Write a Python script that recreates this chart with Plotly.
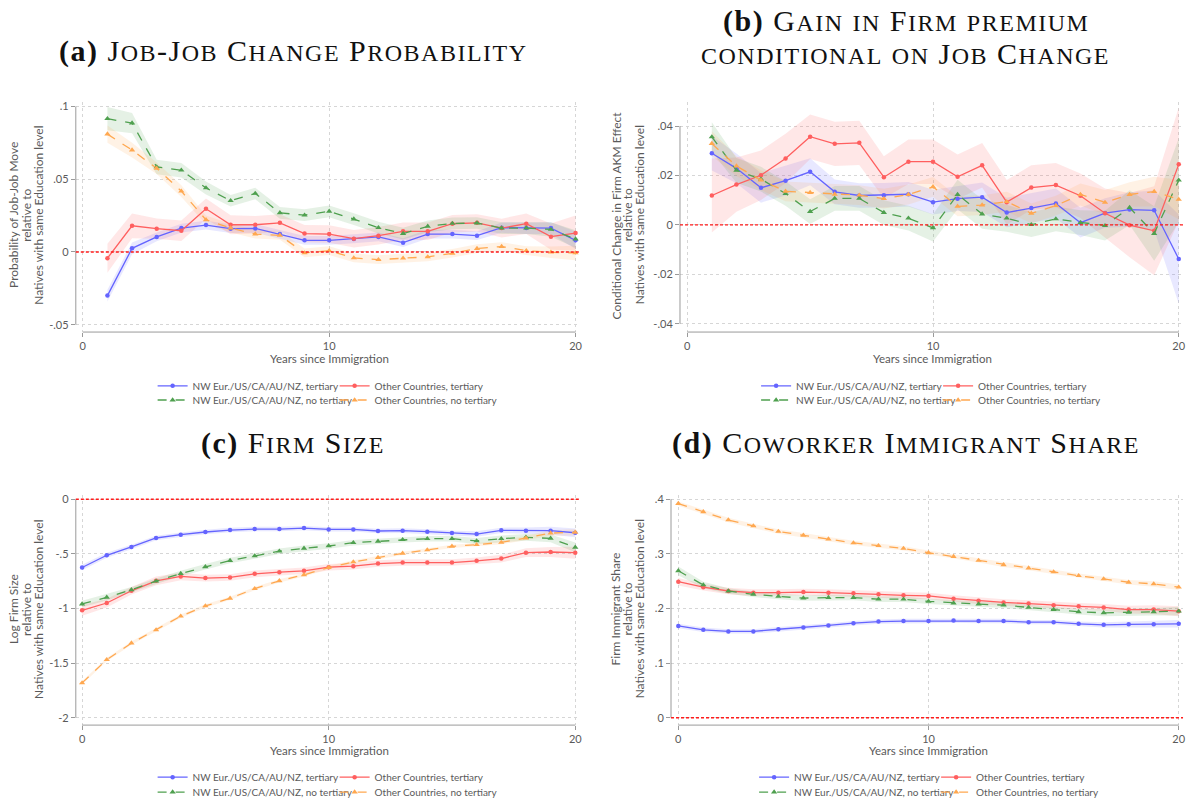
import re
import plotly.graph_objects as go

W, H = 1197, 807

series_names = [
    "NW Eur./US/CA/AU/NZ, tertiary",
    "Other Countries, tertiary",
    "NW Eur./US/CA/AU/NZ, no tertiary",
    "Other Countries, no tertiary",
]
series_colors = ["#6464ff", "#ff5f5f", "#4fa04f", "#ffa850"]
band_colors = ["rgba(100,100,255,0.15)", "rgba(255,95,95,0.15)",
               "rgba(79,160,79,0.15)", "rgba(255,168,80,0.15)"]
series_dash = ["solid", "solid", "dash", "dash"]
series_symbol = ["circle", "circle", "triangle-up", "triangle-up"]

# ---- (a) Job-job change probability -------------------------------------
years_a = list(range(1, 21))
a_nw_ter = [-0.0300, 0.0025, 0.0103, 0.0164, 0.0185, 0.0160, 0.0162, 0.0123, 0.0080, 0.0080,
            0.0089, 0.0103, 0.0064, 0.0123, 0.0123, 0.0112, 0.0167, 0.0164, 0.0164, 0.0080]
a_oth_ter = [-0.0043, 0.0180, 0.0160, 0.0146, 0.0297, 0.0187, 0.0187, 0.0200, 0.0126, 0.0123,
             0.0091, 0.0112, 0.0142, 0.0142, 0.0194, 0.0200, 0.0164, 0.0194, 0.0105, 0.0130]
a_nw_noter = [0.0916, 0.0886, 0.0584, 0.0562, 0.0440, 0.0352, 0.0402, 0.0269, 0.0253, 0.0279,
              0.0226, 0.0167, 0.0126, 0.0176, 0.0196, 0.0199, 0.0164, 0.0164, 0.0155, 0.0089]
a_oth_noter = [0.0810, 0.0700, 0.0575, 0.0418, 0.0221, 0.0164, 0.0123, 0.0114, -0.0007, 0.0009,
               -0.0041, -0.0053, -0.0043, -0.0034, -0.0009, 0.0023, 0.0037, 0.0009, -0.0002, -0.0007]
a_nw_ter_ci = [0.0040, 0.0040, 0.0030, 0.0030, 0.0030, 0.0030, 0.0030, 0.0030, 0.0030, 0.0030,
               0.0030, 0.0030, 0.0030, 0.0030, 0.0030, 0.0030, 0.0035, 0.0040, 0.0040, 0.0060]
a_oth_ter_ci = [0.0100, 0.0085, 0.0070, 0.0070, 0.0070, 0.0065, 0.0060, 0.0060, 0.0060, 0.0060,
                0.0060, 0.0060, 0.0060, 0.0060, 0.0060, 0.0060, 0.0065, 0.0070, 0.0090, 0.0120]
a_nw_noter_ci = [0.0080, 0.0070, 0.0050, 0.0050, 0.0045, 0.0040, 0.0040, 0.0040, 0.0040, 0.0040,
                 0.0040, 0.0040, 0.0040, 0.0040, 0.0040, 0.0040, 0.0040, 0.0040, 0.0050, 0.0060]
a_oth_noter_ci = [0.0060, 0.0050, 0.0040, 0.0040, 0.0030, 0.0030, 0.0030, 0.0030, 0.0030, 0.0030,
                  0.0030, 0.0030, 0.0030, 0.0030, 0.0030, 0.0030, 0.0030, 0.0030, 0.0040, 0.0050]

# ---- (b) Gain in firm premium conditional on job change ------------------
years_b = list(range(1, 21))
b_nw_ter = [0.0290, 0.0229, 0.0150, 0.0179, 0.0215, 0.0134, 0.0119, 0.0120, 0.0124, 0.0092,
            0.0106, 0.0112, 0.0050, 0.0068, 0.0087, 0.0009, 0.0048, 0.0062, 0.0059, -0.0138]
b_oth_ter = [0.0119, 0.0163, 0.0201, 0.0269, 0.0357, 0.0328, 0.0332, 0.0193, 0.0256, 0.0256,
             0.0195, 0.0241, 0.0092, 0.0151, 0.0161, 0.0118, 0.0047, -0.0001, -0.0024, 0.0245]
b_nw_noter = [0.0356, 0.0221, 0.0185, 0.0127, 0.0054, 0.0107, 0.0107, 0.0050, 0.0027, -0.0012,
              0.0123, 0.0044, 0.0027, 0.0001, 0.0024, 0.0009, -0.0003, 0.0070, -0.0035, 0.0181]
b_oth_noter = [0.0329, 0.0238, 0.0181, 0.0136, 0.0131, 0.0124, 0.0120, 0.0106, 0.0123, 0.0154,
               0.0075, 0.0080, 0.0094, 0.0047, 0.0078, 0.0123, 0.0091, 0.0123, 0.0135, 0.0103]
b_nw_ter_ci = [0.0070, 0.0060, 0.0060, 0.0060, 0.0055, 0.0050, 0.0050, 0.0050, 0.0050, 0.0050,
               0.0050, 0.0060, 0.0060, 0.0060, 0.0060, 0.0060, 0.0060, 0.0070, 0.0080, 0.0180]
b_oth_ter_ci = [0.0150, 0.0110, 0.0100, 0.0100, 0.0090, 0.0090, 0.0090, 0.0085, 0.0090, 0.0090,
                0.0090, 0.0090, 0.0090, 0.0090, 0.0090, 0.0090, 0.0100, 0.0130, 0.0180, 0.0230]
b_nw_noter_ci = [0.0060, 0.0050, 0.0050, 0.0050, 0.0050, 0.0050, 0.0050, 0.0050, 0.0050, 0.0055,
                 0.0060, 0.0060, 0.0055, 0.0050, 0.0050, 0.0050, 0.0060, 0.0070, 0.0110, 0.0170]
b_oth_noter_ci = [0.0050, 0.0040, 0.0040, 0.0040, 0.0040, 0.0040, 0.0040, 0.0040, 0.0040, 0.0040,
                  0.0040, 0.0040, 0.0040, 0.0040, 0.0040, 0.0045, 0.0050, 0.0050, 0.0060, 0.0080]

# ---- (c) Firm size ---------------------------------------------------------
years_c = list(range(0, 21))
c_nw_ter = [-0.625, -0.513, -0.437, -0.355, -0.325, -0.300, -0.282, -0.273, -0.273, -0.264, -0.276,
            -0.276, -0.291, -0.288, -0.297, -0.310, -0.319, -0.285, -0.288, -0.288, -0.307]
c_oth_ter = [-1.017, -0.950, -0.838, -0.747, -0.707, -0.722, -0.716, -0.683, -0.668, -0.655, -0.622,
             -0.613, -0.589, -0.580, -0.580, -0.580, -0.564, -0.543, -0.489, -0.483, -0.489]
c_nw_noter = [-0.959, -0.898, -0.829, -0.750, -0.680, -0.619, -0.561, -0.519, -0.476, -0.449, -0.428,
              -0.398, -0.385, -0.370, -0.361, -0.361, -0.382, -0.361, -0.349, -0.358, -0.440]
c_oth_noter = [-1.681, -1.469, -1.317, -1.196, -1.071, -0.977, -0.907, -0.819, -0.747, -0.692, -0.625,
               -0.574, -0.534, -0.495, -0.464, -0.431, -0.416, -0.395, -0.355, -0.310, -0.303]
c_nw_ter_ci = [0.025, 0.022, 0.020, 0.020, 0.020, 0.020, 0.020, 0.020, 0.020, 0.020, 0.020,
               0.020, 0.020, 0.022, 0.022, 0.022, 0.025, 0.025, 0.030, 0.035, 0.040]
c_oth_ter_ci = [0.050, 0.040, 0.035, 0.040, 0.035, 0.030, 0.030, 0.030, 0.030, 0.030, 0.030,
                0.030, 0.030, 0.030, 0.030, 0.030, 0.030, 0.035, 0.040, 0.045, 0.055]
c_nw_noter_ci = [0.030, 0.028, 0.025, 0.025, 0.025, 0.025, 0.025, 0.025, 0.025, 0.025, 0.025,
                 0.025, 0.025, 0.025, 0.025, 0.025, 0.028, 0.030, 0.030, 0.035, 0.045]
c_oth_noter_ci = [0.015, 0.015, 0.015, 0.015, 0.015, 0.015, 0.015, 0.015, 0.015, 0.015, 0.015,
                  0.015, 0.015, 0.015, 0.015, 0.015, 0.015, 0.018, 0.020, 0.025, 0.030]

# ---- (d) Coworker immigrant share -----------------------------------------
years_d = list(range(0, 21))
d_nw_ter = [0.168, 0.161, 0.158, 0.158, 0.162, 0.165, 0.169, 0.173, 0.176, 0.177, 0.177,
            0.178, 0.177, 0.177, 0.175, 0.175, 0.172, 0.170, 0.171, 0.171, 0.172]
d_oth_ter = [0.249, 0.239, 0.232, 0.229, 0.229, 0.230, 0.229, 0.228, 0.226, 0.224, 0.223,
             0.218, 0.214, 0.211, 0.209, 0.206, 0.204, 0.202, 0.198, 0.198, 0.195]
d_nw_noter = [0.269, 0.243, 0.232, 0.226, 0.222, 0.219, 0.220, 0.220, 0.217, 0.217, 0.213,
              0.210, 0.208, 0.206, 0.202, 0.198, 0.194, 0.192, 0.193, 0.194, 0.195]
d_oth_noter = [0.392, 0.377, 0.362, 0.351, 0.341, 0.334, 0.327, 0.320, 0.315, 0.310, 0.302,
               0.295, 0.288, 0.280, 0.274, 0.267, 0.260, 0.254, 0.248, 0.245, 0.239]
d_nw_ter_ci = [0.004, 0.004, 0.004, 0.004, 0.004, 0.004, 0.004, 0.004, 0.004, 0.004, 0.004,
               0.004, 0.004, 0.004, 0.004, 0.004, 0.004, 0.005, 0.005, 0.006, 0.007]
d_oth_ter_ci = [0.007, 0.006, 0.006, 0.006, 0.006, 0.006, 0.006, 0.006, 0.006, 0.006, 0.006,
                0.006, 0.006, 0.006, 0.006, 0.006, 0.006, 0.006, 0.007, 0.008, 0.009]
d_nw_noter_ci = [0.008, 0.006, 0.005, 0.005, 0.005, 0.005, 0.005, 0.005, 0.005, 0.005, 0.005,
                 0.005, 0.005, 0.005, 0.005, 0.005, 0.005, 0.006, 0.006, 0.007, 0.008]
d_oth_noter_ci = [0.004, 0.004, 0.004, 0.004, 0.004, 0.004, 0.004, 0.004, 0.004, 0.004, 0.004,
                  0.004, 0.004, 0.004, 0.004, 0.004, 0.004, 0.004, 0.004, 0.005, 0.005]

# ---- axis labels -----------------------------------------------------------
x_ticks = [0, 10, 20]
a_yticks, a_ytext = [-0.05, 0, 0.05, 0.1], ["-.05", "0", ".05", ".1"]
b_yticks, b_ytext = [-0.04, -0.02, 0, 0.02, 0.04], ["-.04", "-.02", "0", ".02", ".04"]
c_yticks, c_ytext = [-2, -1.5, -1, -0.5, 0], ["-2", "-1.5", "-1", "-.5", "0"]
d_yticks, d_ytext = [0, 0.1, 0.2, 0.3, 0.4], ["0", ".1", ".2", ".3", ".4"]

a_ytitle = ["Probability of Job-Job Move", "relative to", "Natives with same Education level"]
b_ytitle = ["Conditional Change in Firm AKM Effect", "relative to", "Natives with same Education level"]
c_ytitle = ["Log Firm Size", "relative to", "Natives with same Education level"]
d_ytitle = ["Firm Immigrant Share", "relative to", "Natives with same Education level"]
x_title = "Years since Immigration"

# (tag, text, centre x px, y px, vertical anchor)
titles = [
    ("(a)", "Job-Job Change Probability", 294, 49, "middle"),
    ("(b)", "Gain in Firm premium", 908, 0, "top"),
    ("", "conditional on Job Change", 908, 33.5, "top"),
    ("(c)", "Firm Size", 294, 443, "middle"),
    ("(d)", "Coworker Immigrant Share", 908, 443, "middle"),
]

SANS = "Lato, 'Open Sans', sans-serif"
SERIF = "'Liberation Serif', 'DejaVu Serif', serif"
TXT = "#5a5a5a"
AXC = "#9a9a9a"
CAP_SIZE = 30                    # full capitals
SC_SIZE = round(CAP_SIZE * 0.8)  # small capitals
TRACKING = 1.5                   # letter spacing of the small-caps titles (px)


def small_caps(text):
    # text is upper-cased by the font; lowercase runs are set smaller
    return re.sub(r"([a-z]+)", lambda m: f"<span style='font-size:{SC_SIZE}px'>{m.group(1)}</span>",
                  text)


def title_html(tag, text):
    head = f"<span style='text-transform:none'><b>{tag}</b></span> " if tag else ""
    return f"<span style='letter-spacing:{TRACKING}px'>{head}{small_caps(text)}</span>"


def rng(lo_px, hi_px, v1, p1, v2, p2):
    s = (v2 - v1) / (p2 - p1)
    return [v1 + (lo_px - p1) * s, v1 + (hi_px - p1) * s]


# pixel boxes of each plot region plus two value/pixel anchors per axis
panels = [
    dict(x=years_a, ys=[a_nw_ter, a_oth_ter, a_nw_noter, a_oth_noter],
         cis=[a_nw_ter_ci, a_oth_ter_ci, a_nw_noter_ci, a_oth_noter_ci],
         box=(76, 581, 100, 331.7), xa=((0, 83), (20, 577)), ya=((0.1, 105), (-0.05, 324.3)),
         yt=(a_yticks, a_ytext), ytitle=a_ytitle, ytx=(14, 27, 39), ytc=214, xtc=(330, 358),
         leg=(153, 385.7, 400)),
    dict(x=years_b, ys=[b_nw_ter, b_oth_ter, b_nw_noter, b_oth_noter],
         cis=[b_nw_ter_ci, b_oth_ter_ci, b_nw_noter_ci, b_oth_noter_ci],
         box=(681.7, 1186, 100, 331.7), xa=((0, 689), (20, 1181.7)), ya=((0.04, 124.7), (-0.04, 323.3)),
         yt=(b_yticks, b_ytext), ytitle=b_ytitle, ytx=(618, 630, 642), ytc=214, xtc=(935, 358),
         leg=(758, 385.7, 400)),
    dict(x=years_c, ys=[c_nw_ter, c_oth_ter, c_nw_noter, c_oth_noter],
         cis=[c_nw_ter_ci, c_oth_ter_ci, c_nw_noter_ci, c_oth_noter_ci],
         box=(76, 581, 495, 726.7), xa=((0, 82.3), (20, 576.7)), ya=((0, 499.7), (-2, 719.3)),
         yt=(c_yticks, c_ytext), ytitle=c_ytitle, ytx=(14, 27, 39), ytc=610, xtc=(330, 752),
         leg=(153, 779, 794)),
    dict(x=years_d, ys=[d_nw_ter, d_oth_ter, d_nw_noter, d_oth_noter],
         cis=[d_nw_ter_ci, d_oth_ter_ci, d_nw_noter_ci, d_oth_noter_ci],
         box=(672.7, 1186, 495, 726.7), xa=((0, 680), (20, 1181.7)), ya=((0.4, 499.7), (0, 719.3)),
         yt=(d_yticks, d_ytext), ytitle=d_ytitle, ytx=(618, 630, 642), ytc=610, xtc=(931, 752),
         leg=(756, 779, 794)),
]

fig = go.Figure()
layout = dict(width=W, height=H, margin=dict(l=0, r=0, t=0, b=0),
              paper_bgcolor="white", plot_bgcolor="white", showlegend=True)
shapes, annotations = [], []

for i, p in enumerate(panels):
    n = i + 1
    xa_name = "xaxis" if n == 1 else f"xaxis{n}"
    ya_name = "yaxis" if n == 1 else f"yaxis{n}"
    xref = "x" if n == 1 else f"x{n}"
    yref = "y" if n == 1 else f"y{n}"
    l, r, t, b = p["box"]
    (xv1, xp1), (xv2, xp2) = p["xa"]
    (yv1, yp1), (yv2, yp2) = p["ya"]
    tickv, tickt = p["yt"]

    layout[xa_name] = dict(
        domain=[l / W, r / W], range=rng(l, r, xv1, xp1, xv2, xp2), anchor=yref,
        tickvals=x_ticks, ticktext=[str(v) for v in x_ticks], ticks="outside", ticklen=4,
        tickcolor=AXC, tickfont=dict(family=SANS, size=11, color=TXT),
        showgrid=True, gridcolor="#d6d6d6", griddash="dot", gridwidth=1,
        showline=False, zeroline=False)
    layout[ya_name] = dict(
        domain=[1 - b / H, 1 - t / H], range=rng(b, t, yv1, yp1, yv2, yp2), anchor=xref,
        tickvals=tickv, ticktext=tickt, ticks="outside", ticklen=4,
        tickcolor=AXC, tickfont=dict(family=SANS, size=11, color=TXT),
        showgrid=True, gridcolor="#d6d6d6", griddash="dot", gridwidth=1,
        showline=False, zeroline=False)

    # Stata-style detached axis lines spanning the labelled range
    shapes.append(dict(type="line", xref=f"{xref} domain", x0=0, x1=0, yref=yref,
                       y0=min(tickv), y1=max(tickv), line=dict(color=AXC, width=1)))
    shapes.append(dict(type="line", xref=xref, x0=min(x_ticks), x1=max(x_ticks),
                       yref=f"{yref} domain", y0=0, y1=0, line=dict(color=AXC, width=1)))
    # reference line at zero
    shapes.append(dict(type="line", xref=f"{xref} domain", x0=0, x1=1, yref=yref, y0=0, y1=0,
                       line=dict(color="#ff1a1a", width=1.4, dash="3px,2px"), layer="above"))

    # confidence bands
    for k in range(4):
        lo = [v - c for v, c in zip(p["ys"][k], p["cis"][k])]
        hi = [v + c for v, c in zip(p["ys"][k], p["cis"][k])]
        fig.add_trace(go.Scatter(
            x=p["x"] + p["x"][::-1], y=hi + lo[::-1], fill="toself", fillcolor=band_colors[k],
            line=dict(width=0), mode="lines", hoverinfo="skip", showlegend=False,
            xaxis=xref, yaxis=yref))

    leg_top = "legend" if n == 1 else f"legend{2 * n - 1}"
    leg_bot = f"legend{2 * n}"
    for k in range(4):
        fig.add_trace(go.Scatter(
            x=p["x"], y=p["ys"][k], name=series_names[k], mode="lines+markers",
            line=dict(color=series_colors[k], width=1.3, dash=series_dash[k]),
            marker=dict(symbol=series_symbol[k], size=4.5 if k < 2 else 5.5, color=series_colors[k]),
            xaxis=xref, yaxis=yref, legend=leg_top if k < 2 else leg_bot))

    lx, ly1, ly2 = p["leg"]
    for key, yy in ((leg_top, ly1), (leg_bot, ly2)):
        layout[key] = dict(orientation="h", x=lx / W, xanchor="left", y=1 - yy / H, yanchor="middle",
                           entrywidth=137, entrywidthmode="pixels", itemwidth=30,
                           font=dict(family=SANS, size=10, color=TXT), bgcolor="rgba(0,0,0,0)",
                           traceorder="normal")

    for line_txt, xx in zip(p["ytitle"], p["ytx"]):
        annotations.append(dict(text=line_txt, xref="paper", yref="paper", x=xx / W, y=1 - p["ytc"] / H,
                                xanchor="center", yanchor="middle", textangle=-90, showarrow=False,
                                font=dict(family=SANS, size=12, color=TXT)))
    annotations.append(dict(text=x_title, xref="paper", yref="paper", x=p["xtc"][0] / W,
                            y=1 - p["xtc"][1] / H, xanchor="center", yanchor="middle",
                            showarrow=False, font=dict(family=SANS, size=11.5, color=TXT)))

for tag, txt, cx, cy, anchor in titles:
    annotations.append(dict(text=title_html(tag, txt), xref="paper", yref="paper", x=cx / W,
                            y=1 - cy / H, xanchor="center", yanchor=anchor, showarrow=False,
                            font=dict(family=SERIF, size=CAP_SIZE, color="#111111",
                                      textcase="upper")))

layout["shapes"] = shapes
layout["annotations"] = annotations
fig.update_layout(**layout)
fig.write_html("out.html")
